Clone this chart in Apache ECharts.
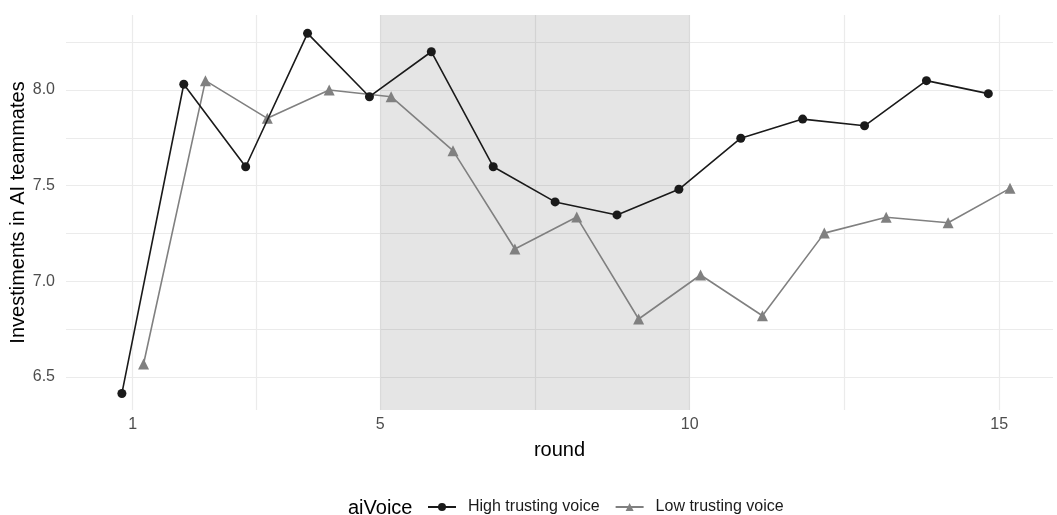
<!DOCTYPE html>
<html>
<head>
<meta charset="utf-8">
<script src="https://cdn.jsdelivr.net/npm/echarts@6/dist/echarts.min.js"></script>
<style>
html,body{margin:0;padding:0;background:#fff;}
#chart{width:1057px;height:515px;}
</style>
</head>
<body>
<div id="chart"></div>
<script>
// ---- data ----
const ROUNDS = [1,2,3,4,5,6,7,8,9,10,11,12,13,14,15];
const HIGH = [6.414,8.030,7.599,8.296,7.965,8.200,7.599,7.415,7.347,7.481,7.748,7.848,7.813,8.049,7.981];
const LOW  = [6.568,8.049,7.852,8.000,7.965,7.683,7.169,7.336,6.803,7.033,6.820,7.252,7.335,7.306,7.486];
const SERIES_NAMES = ['High trusting voice','Low trusting voice'];
const X_TICKS = [1,5,10,15];
const Y_TICKS = [6.5,7.0,7.5,8.0];
const X_GRID = [1,3,5,7.5,10,12.5,15];
const Y_GRID = [6.5,6.75,7.0,7.25,7.5,7.75,8.0,8.25];
const SHADE = [5,10];
const DODGE = 0.175;

const FONT = '"Liberation Sans", Arial, Helvetica, sans-serif';
const chart = echarts.init(document.getElementById('chart'), null, {renderer:'canvas'});

const gridLineData = X_GRID.map(v => ({xAxis: v})).concat(Y_GRID.map(v => ({yAxis: v})));

const option = {
  animation: false,
  backgroundColor: '#ffffff',
  grid: {left: 66, right: 4, top: 15, bottom: 105, containLabel: false, outerBoundsMode: 'none'},
  xAxis: {
    type: 'value', min: -0.078, max: 15.87,
    axisLine: {show: false}, axisTick: {show: false}, splitLine: {show: false},
    axisLabel: {customValues: X_TICKS, color: '#4d4d4d', fontSize: 16, fontFamily: FONT, margin: 7},
    name: 'round', nameLocation: 'middle', nameGap: 30, nameMoveOverlap: false,
    nameTextStyle: {color: '#000', fontSize: 20, fontFamily: FONT}
  },
  yAxis: {
    type: 'value', min: 6.3275, max: 8.392,
    axisLine: {show: false}, axisTick: {show: false}, splitLine: {show: false},
    axisLabel: {customValues: Y_TICKS, color: '#4d4d4d', fontSize: 16, fontFamily: FONT, margin: 11,
      formatter: v => Number(v).toFixed(1)},
    name: 'Investiments in AI teammates', nameLocation: 'middle', nameGap: 38, nameMoveOverlap: false,
    nameTextStyle: {color: '#000', fontSize: 20, fontFamily: FONT}
  },
  legend: {
    data: SERIES_NAMES,
    left: 427, top: 499, padding: 0,
    itemWidth: 28, itemHeight: 10, itemGap: 15,
    textStyle: {color: '#1a1a1a', fontSize: 16, fontFamily: FONT, padding: [0,0,0,7]},
    selectedMode: false
  },
  graphic: [{
    type: 'text', left: 348, top: 498,
    style: {text: 'aiVoice', fill: '#000', font: '20px ' + FONT}
  }],
  series: [
    {
      name: '_grid', type: 'line', data: [], silent: true,
      markLine: {
        z: 0, silent: true, symbol: ['none','none'], label: {show: false},
        lineStyle: {color: '#ebebeb', type: 'solid', width: 1.2},
        emphasis: {disabled: true},
        data: gridLineData
      }
    },
    {
      name: '_shade', type: 'line', data: [], silent: true,
      markArea: {
        z: 1, silent: true,
        itemStyle: {color: 'rgba(0,0,0,0.1)'},
        label: {show: false},
        data: [[{xAxis: SHADE[0]}, {xAxis: SHADE[1]}]]
      }
    },
    {
      name: SERIES_NAMES[0], type: 'line', z: 4,
      data: ROUNDS.map((r, i) => [r - DODGE, HIGH[i]]),
      symbol: 'circle', symbolSize: 9,
      lineStyle: {color: '#1a1a1a', width: 1.6},
      itemStyle: {color: '#1a1a1a'}
    },
    {
      name: SERIES_NAMES[1], type: 'line', z: 3,
      data: ROUNDS.map((r, i) => [r + DODGE, LOW[i]]),
      symbol: 'triangle', symbolSize: 11,
      lineStyle: {color: '#808080', width: 1.6},
      itemStyle: {color: '#808080'}
    }
  ]
};
chart.setOption(option);
</script>
</body>
</html>
